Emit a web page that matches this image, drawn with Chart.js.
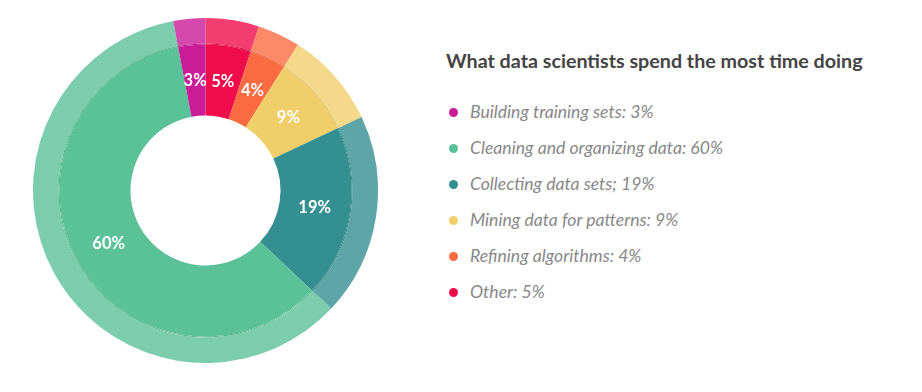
<!DOCTYPE html>
<html>
<head>
<meta charset="utf-8">
<script src="https://cdn.jsdelivr.net/npm/chart.js@4.4.0/dist/chart.umd.min.js"></script>
<style>
    body { margin: 0; background: #fff; font-family: Lato, "Open Sans", sans-serif; }
    #wrap { position: relative; width: 922px; height: 392px; }
    #chartBox { position: absolute; left: 33px; top: 18px; width: 345px; height: 345px; }
    #title { position: absolute; left: 446px; top: 49px; font-size: 19.7px; font-weight: bold; color: #444; white-space: nowrap; }
    #legend { position: absolute; left: 449px; top: 101px; }
    .item { height: 36px; display: flex; align-items: flex-start; font-style: italic; font-size: 17.6px; color: #888; white-space: nowrap; }
    .dot { width: 9px; height: 9px; border-radius: 50%; margin: 7px 12px 0 0; }
</style>
</head>
<body>
<div id="wrap">
    <div id="chartBox"><canvas id="donut"></canvas></div>
    <div id="title">What data scientists spend the most time doing</div>
    <div id="legend"></div>
</div>
<script>
// drawn clockwise from 12 o'clock
const categories = ['Other', 'Refining algorithms', 'Mining data for patterns', 'Collecting data sets', 'Cleaning and organizing data', 'Building training sets'];
const shares = [5, 4, 9, 19, 60, 3];
const legendText = ['Other: 5%', 'Refining algorithms: 4%', 'Mining data for patterns: 9%', 'Collecting data sets; 19%', 'Cleaning and organizing data: 60%', 'Building training sets: 3%'];
const colors = ['#f00b4b', '#fb6b41', '#f0cf6b', '#348f90', '#5ac198', '#cb1c98'];
const outerColors = colors.map(c => c + 'cc');
const edgeColors = ['#dc0a45', '#e5633c', '#dcbe63', '#308485', '#53b28c', '#bb1a8c'];

// legend lists the slices counter-clockwise
document.getElementById('legend').innerHTML = categories
    .map((_, i) => `<div class="item"><span class="dot" style="background:${colors[i]}"></span>${legendText[i]}</div>`)
    .reverse().join('');

const sliceLabels = {
    id: 'sliceLabels',
    afterDatasetsDraw(chart) {
        const ctx = chart.ctx;
        const meta = chart.getDatasetMeta(2);
        ctx.save();
        ctx.fillStyle = '#fff';
        ctx.font = 'bold 16.5px Lato';
        ctx.textAlign = 'center';
        ctx.textBaseline = 'middle';
        meta.data.forEach((arc, i) => {
            const p = arc.tooltipPosition();
            ctx.fillText(shares[i] + '%', p.x, p.y);
        });
        ctx.restore();
    }
};

new Chart(document.getElementById('donut'), {
    type: 'doughnut',
    data: {
        labels: categories,
        datasets: [
            { data: shares, backgroundColor: outerColors, borderWidth: 0, weight: 25.5 },
            { data: shares, backgroundColor: edgeColors, borderWidth: 0, weight: 1 },
            { data: shares, backgroundColor: colors, borderWidth: 0, weight: 71 }
        ]
    },
    options: {
        responsive: true,
        maintainAspectRatio: false,
        animation: false,
        cutout: 75,
        layout: { padding: 0 },
        plugins: { legend: { display: false }, tooltip: { enabled: false } }
    },
    plugins: [sliceLabels]
});
</script>
</body>
</html>
